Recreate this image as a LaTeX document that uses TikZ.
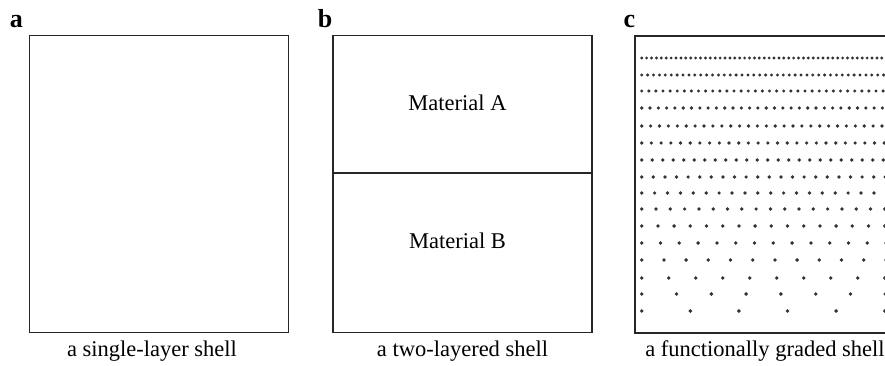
\documentclass[tikz,border=0pt]{standalone}
\usepackage{fontspec}
\setmainfont{Liberation Serif}
\begin{document}
\begin{tikzpicture}[x=1pt,y=-1pt,
  shellbox/.style={draw=black!85,line width=1.1pt,fill=white,inner sep=0pt,
    minimum width=259pt,minimum height=297pt},
  caption/.style={anchor=base,inner sep=0pt,font=\fontsize{22.5}{27}\selectfont},
  panellabel/.style={anchor=base,inner sep=0pt,font=\fontsize{26}{30}\selectfont\bfseries},
  graindot/.style={fill=black!80,draw=none}]
\useasboundingbox (0,0) rectangle (885,365);
\clip (0,0) rectangle (885,365);

% (a) single-layer shell
\node[shellbox] (shellA) at (159.2,184.2) {};
\node[panellabel] (labA) at (16.4,27) {a};
\node[caption] (capA) at (152,356) {a single-layer shell};

% (b) two-layered shell
\node[shellbox] (shellB) at (462.5,183.6) {};
\draw[black!85,line width=1.1pt] (shellB.west |- 0,173) coordinate (midL)
  -- (shellB.east |- 0,173) coordinate (midR);
\node[panellabel] (labB) at (325,27) {b};
\node[caption] (matA) at (457.5,110) {Material A};
\node[caption] (matB) at (457.5,248.3) {Material B};
\node[caption] (capB) at (462.5,356) {a two-layered shell};

% (c) functionally graded shell: dot spacing grows towards the bottom
\node[shellbox] (shellC) at (764.5,184.5) {};
\node[panellabel] (labC) at (629.5,27) {c};
\node[caption] (capC) at (765,356) {a functionally graded shell};
\foreach \row/\gap/\rad in {
   58.0/4.9/1.6, 75.0/5.9/1.65, 91.0/7.1/1.7, 108.0/8.3/1.8,
  126.0/8.9/1.8, 143.0/9.7/1.8, 160.0/10.5/1.8, 177.0/11.6/1.85,
  193.0/12.9/1.85, 209.0/14.3/1.85, 226.0/16.2/1.9, 243.0/18.8/1.9,
  260.0/22.2/1.9, 278.0/27.0/1.95, 294.0/34.8/1.95, 311.0/48.6/1.95}{
  \pgfmathtruncatemacro\ndots{245/\gap}
  \foreach \i in {0,...,\ndots}{
    \fill[graindot] ({641.7+\i*\gap},\row) circle (\rad);
  }
}
\end{tikzpicture}
\end{document}
